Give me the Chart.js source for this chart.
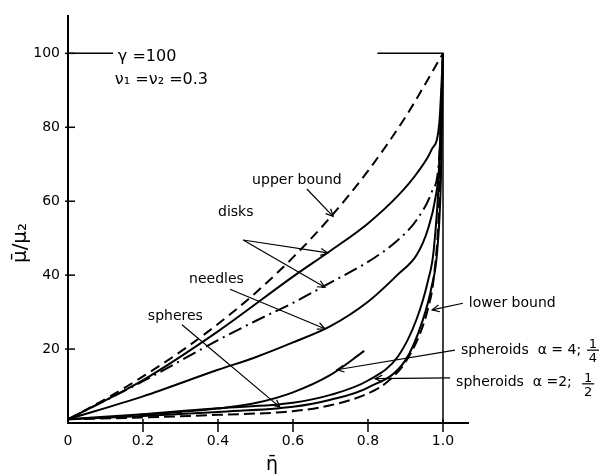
<!DOCTYPE html>
<html>
<head>
<meta charset="utf-8">
<script src="https://cdn.jsdelivr.net/npm/chart.js@4.4.1/dist/chart.umd.min.js"></script>
<style>
    html, body { margin: 0; padding: 0; background: #fff; }
    #wrap { width: 601px; height: 476px; position: relative; }
</style>
</head>
<body>
<div id="wrap"><canvas id="chart-curves"></canvas></div>
<script>
// 讀圖得到的曲線 (η̄ , μ̄/μ2)
var etaUpper = [0, 0.1, 0.2, 0.3, 0.4, 0.5, 0.6, 0.7, 0.8, 0.9, 1.0];
var upperBound = [1, 6.5, 12.6, 19.3, 26.8, 35.2, 44.8, 55.7, 68.2, 82.8, 100];

var etaDisks = [0, 0.2, 0.4, 0.6, 0.7, 0.8, 0.88, 0.93, 0.97, 0.99, 1.0];
var disksSolid = [1, 11.6, 24.8, 39.6, 46.6, 54, 61.5, 67.5, 74, 81, 100];

var etaDisks2 = [0, 0.2, 0.4, 0.5, 0.6, 0.7, 0.8, 0.88, 0.93, 0.97, 0.99, 1.0];
var disksDashDot = [1, 11.3, 22.4, 27.6, 32.5, 38, 43.6, 49.5, 55, 62.5, 72, 100];

var etaNeedles = [0, 0.2, 0.4, 0.5, 0.6, 0.7, 0.8, 0.88, 0.93, 0.96, 0.98, 0.99, 1.0];
var needles = [1, 7.2, 14.4, 17.8, 21.8, 26.2, 32.8, 40.2, 45.5, 52.5, 61, 70, 100];

var etaSpheroid2 = [0, 0.2, 0.4, 0.6, 0.7, 0.8, 0.88, 0.93, 0.96, 0.975, 0.99, 1.0];
var spheroid2 = [1, 2.4, 4.0, 5.5, 7.6, 11.5, 18, 28.2, 38.5, 46.5, 68, 100];

var etaSpheres = [0, 0.2, 0.4, 0.6, 0.7, 0.8, 0.9, 0.945, 0.97, 0.985, 0.995, 1.0];
var spheres = [1, 1.9, 3.0, 4.4, 6.3, 9.6, 17, 27.5, 37, 47, 68, 100];

var etaLower = [0, 0.2, 0.4, 0.6, 0.7, 0.8, 0.85, 0.9, 0.94, 0.96, 0.975, 0.99, 1.0];
var lowerBound = [1, 1.5, 2.2, 3.2, 4.8, 8.0, 11.0, 16.5, 24.5, 31, 39, 60, 100];

var etaSpheroid4 = [0.19, 0.3, 0.4, 0.5, 0.6, 0.7, 0.79];
var spheroid4 = [2.2, 3.0, 3.9, 5.4, 8.3, 13.0, 19.5];

// 外框 (η̄=1 直線與 100 橫線)
var frameEta = [0, 0.12, 0.5, 0.825, 1.0, 1.0];
var frameVal = [100, 100, null, 100, 100, 0];

var xTickValues = [0, 0.2, 0.4, 0.6, 0.8, 1.0];
var xTickLabels = ["0", "0.2", "0.4", "0.6", "0.8", "1.0"];
var yTickValues = [20, 40, 60, 80, 100];
var yTickLabels = ["20", "40", "60", "80", "100"];

// 標註文字與箭頭 (資料座標)
var notes = [
    { text: "upper bound", x: 0.491, y: 64.6, size: 14 },
    { text: "disks", x: 0.40, y: 55.9, size: 14 },
    { text: "needles", x: 0.323, y: 37.8, size: 14 },
    { text: "spheres", x: 0.213, y: 27.9, size: 14 },
    { text: "lower bound", x: 1.069, y: 31.4, size: 14 },
    { text: "spheroids  α = 4;", x: 1.048, y: 18.6, size: 14 },
    { text: "spheroids  α =2;", x: 1.035, y: 10.1, size: 14 },
    { text: "γ =100", x: 0.133, y: 97.9, size: 16 },
    { text: "ν₁ =ν₂ =0.3", x: 0.125, y: 91.6, size: 16 }
];
var fractions = [
    { num: "1", den: "4", x: 1.40, y: 19.7 },
    { num: "1", den: "2", x: 1.387, y: 10.6 }
];
var pointers = [
    { from: [0.637, 63.3], to: [0.707, 55.9] },
    { from: [0.467, 49.5], to: [0.693, 46.0] },
    { from: [0.467, 49.5], to: [0.685, 36.7] },
    { from: [0.432, 36.2], to: [0.685, 25.5] },
    { from: [0.304, 26.6], to: [0.565, 4.3] },
    { from: [1.053, 32.4], to: [0.971, 30.6] },
    { from: [1.032, 19.7], to: [0.717, 14.4] },
    { from: [1.019, 12.2], to: [0.819, 12.0] }
];

function pairs(xs, ys) {
    return xs.map(function (x, i) { return { x: x, y: ys[i] }; });
}

function curve(xs, ys, dash) {
    return {
        data: pairs(xs, ys),
        borderColor: "#000",
        borderWidth: 2,
        borderDash: dash || [],
        pointRadius: 0,
        fill: false,
        cubicInterpolationMode: "monotone"
    };
}

var FONT = "DejaVu Sans";

var notesPlugin = {
    id: "notes",
    afterDatasetsDraw: function (chart) {
        var ctx = chart.ctx;
        var xs = chart.scales.x, ys = chart.scales.y;
        var px = function (v) { return xs.getPixelForValue(v); };
        var py = function (v) { return ys.getPixelForValue(v); };
        var ax = px(0), ay = py(0);
        ctx.save();
        ctx.strokeStyle = "#000";
        ctx.fillStyle = "#000";
        // 刻度線 (跨過軸線)
        ctx.lineWidth = 1.5;
        yTickValues.forEach(function (v) {
            ctx.beginPath(); ctx.moveTo(ax - 3, py(v)); ctx.lineTo(ax + 7, py(v)); ctx.stroke();
        });
        xTickValues.slice(1).forEach(function (v) {
            ctx.beginPath(); ctx.moveTo(px(v), ay - 4); ctx.lineTo(px(v), ay + 9); ctx.stroke();
        });
        // 箭頭
        ctx.lineWidth = 1.2;
        pointers.forEach(function (p) {
            var x1 = px(p.from[0]), y1 = py(p.from[1]), x2 = px(p.to[0]), y2 = py(p.to[1]);
            ctx.beginPath(); ctx.moveTo(x1, y1); ctx.lineTo(x2, y2); ctx.stroke();
            var a = Math.atan2(y2 - y1, x2 - x1);
            ctx.beginPath();
            ctx.moveTo(x2 - 8 * Math.cos(a - 0.45), y2 - 8 * Math.sin(a - 0.45));
            ctx.lineTo(x2, y2);
            ctx.lineTo(x2 - 8 * Math.cos(a + 0.45), y2 - 8 * Math.sin(a + 0.45));
            ctx.stroke();
        });
        // 文字
        ctx.textBaseline = "alphabetic";
        ctx.textAlign = "left";
        notes.forEach(function (n) {
            ctx.font = n.size + "px '" + FONT + "'";
            ctx.fillText(n.text, px(n.x), py(n.y));
        });
        ctx.textAlign = "center";
        fractions.forEach(function (f) {
            var cx = px(f.x), cy = py(f.y);
            ctx.font = "13px '" + FONT + "'";
            ctx.fillText(f.num, cx, cy - 2);
            ctx.fillText(f.den, cx, cy + 12);
            ctx.beginPath(); ctx.moveTo(cx - 6, cy); ctx.lineTo(cx + 6, cy); ctx.stroke();
        });
        // 軸標題
        ctx.font = "19px '" + FONT + "'";
        ctx.textBaseline = "middle";
        ctx.fillText("η\u0304", px(0.544), py(-11.4));
        ctx.translate(px(-0.125), py(48.7));
        ctx.rotate(-Math.PI / 2);
        ctx.font = "20px '" + FONT + "'";
        ctx.fillText("μ\u0304/μ₂", 0, 0);
        ctx.restore();
    }
};

var ctx = document.getElementById("chart-curves").getContext("2d");
new Chart(ctx, {
    type: "line",
    data: {
        datasets: [
            curve(etaUpper, upperBound, [10, 6]),
            curve(etaDisks, disksSolid),
            curve(etaDisks2, disksDashDot, [14, 5, 2, 5]),
            curve(etaNeedles, needles),
            curve(etaSpheroid2, spheroid2),
            curve(etaSpheres, spheres),
            curve(etaLower, lowerBound, [11, 5]),
            curve(etaSpheroid4, spheroid4),
            {
                data: pairs(frameEta, frameVal),
                borderColor: "#000",
                borderWidth: 1.5,
                pointRadius: 0,
                fill: false,
                spanGaps: false
            }
        ]
    },
    options: {
        responsive: true,
        maintainAspectRatio: false,
        animation: false,
        layout: { padding: { top: 10, right: 133, left: 0, bottom: 0 } },
        plugins: {
            legend: { display: false },
            tooltip: { enabled: false }
        },
        scales: {
            x: {
                type: "linear",
                min: 0,
                max: 1.0667,
                afterBuildTicks: function (s) {
                    s.ticks = xTickValues.map(function (v) { return { value: v }; });
                },
                afterFit: function (s) { s.height = 53; },
                grid: { display: false, drawTicks: false },
                border: { display: true, color: "#000", width: 2 },
                ticks: {
                    autoSkip: false,
                    maxRotation: 0,
                    padding: 10,
                    color: "#000",
                    font: { family: FONT, size: 14 },
                    callback: function (v, i) { return xTickLabels[i]; }
                }
            },
            y: {
                type: "linear",
                min: 0,
                max: 110,
                afterBuildTicks: function (s) {
                    s.ticks = yTickValues.map(function (v) { return { value: v }; });
                },
                afterFit: function (s) { s.width = 68; },
                grid: { display: false, drawTicks: false },
                border: { display: true, color: "#000", width: 2 },
                ticks: {
                    autoSkip: false,
                    padding: 8,
                    color: "#000",
                    font: { family: FONT, size: 14 },
                    callback: function (v, i) { return yTickLabels[i]; }
                }
            }
        }
    },
    plugins: [notesPlugin]
});
</script>
</body>
</html>
